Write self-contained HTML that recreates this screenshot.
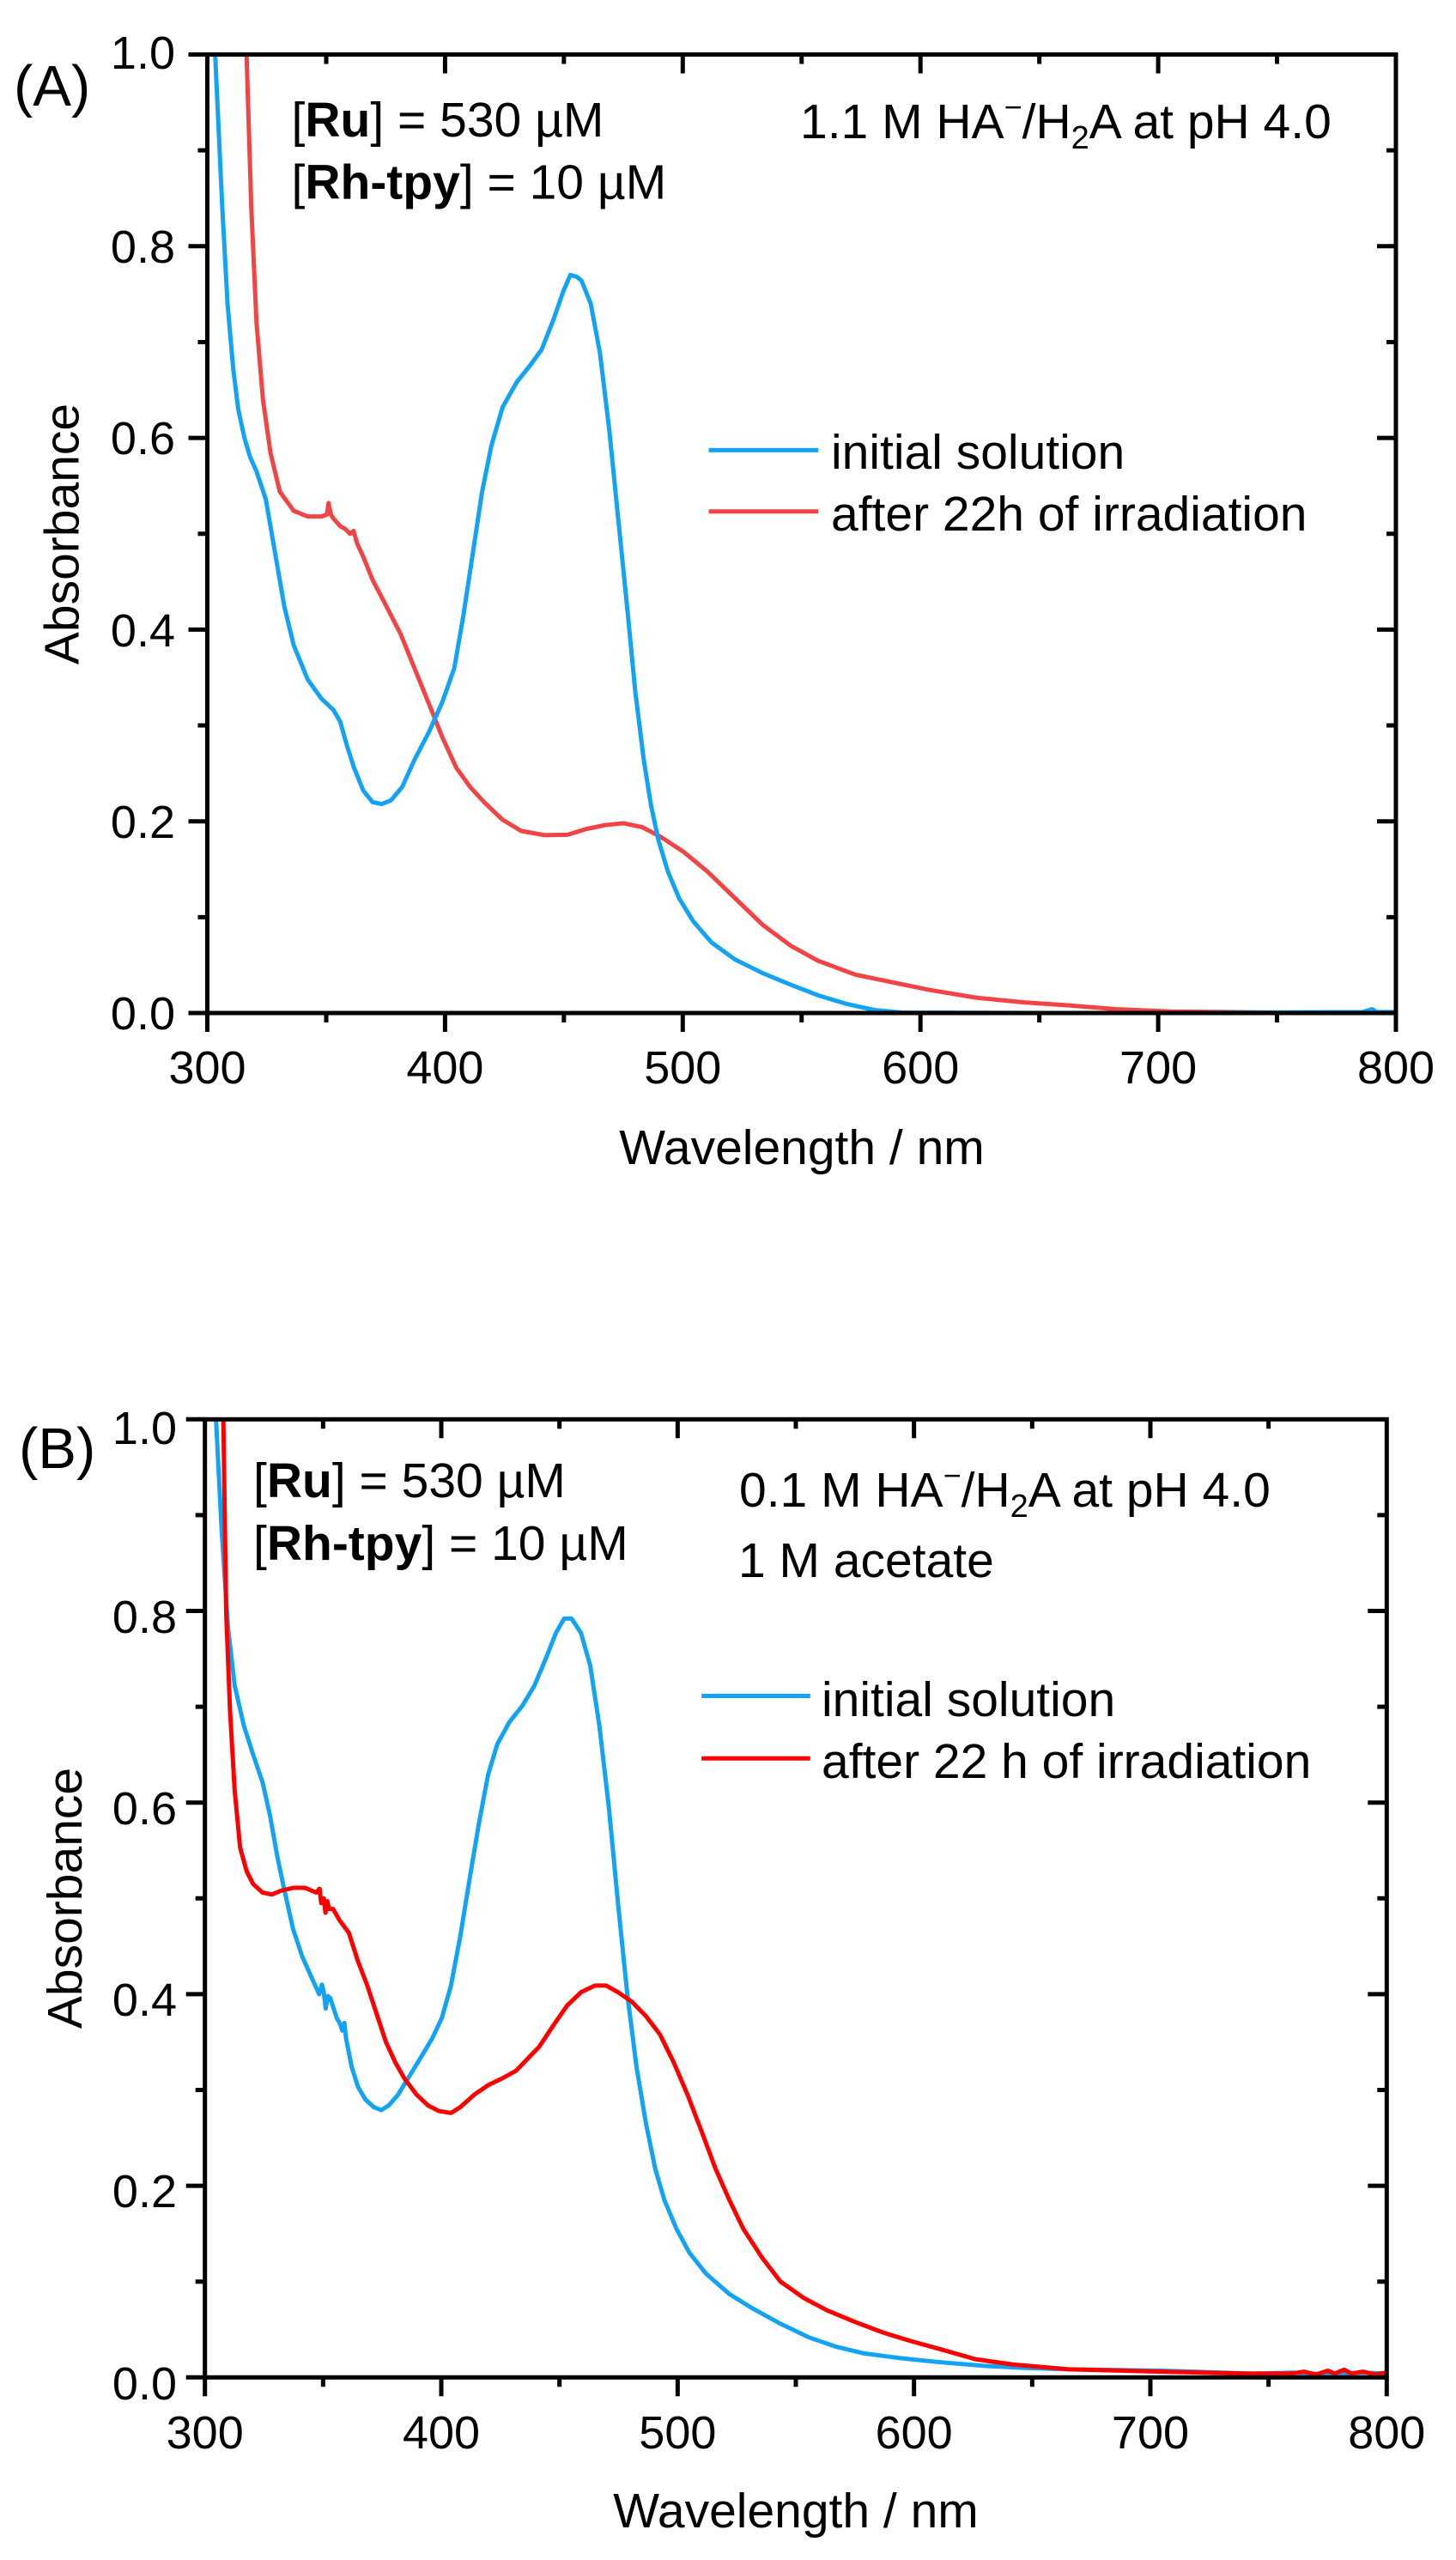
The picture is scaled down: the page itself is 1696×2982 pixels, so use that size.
<!DOCTYPE html>
<html>
<head>
<meta charset="utf-8">
<style>
html,body{margin:0;padding:0;background:#fff;}
svg{display:block;}
text{font-family:"Liberation Sans",Arial,sans-serif;fill:#000;}
</style>
</head>
<body>
<svg width="1696" height="2982" viewBox="0 0 1696 2982" xmlns="http://www.w3.org/2000/svg">
<defs>
<clipPath id="ca"><rect x="241.5" y="63.5" width="1384.5" height="1116.5"/></clipPath>
<clipPath id="cb"><rect x="238.7" y="1653.3" width="1376.6" height="1116"/></clipPath>
</defs>
<rect x="0" y="0" width="1696" height="2982" fill="#fff"/>

<!-- ================= PANEL A ================= -->
<g clip-path="url(#ca)">
<polyline fill="none" stroke="#f24444" stroke-width="5" stroke-linejoin="round" vector-effect="non-scaling-stroke" transform="matrix(2.769 0 0 -1116.5 -589.2 1180)"
points="316.3,1.05 316.5,1.0 318.5,0.84 320.7,0.72 323.4,0.64 326.6,0.584 330.5,0.544 336.3,0.524 342.2,0.518 348,0.518 350.3,0.52 351,0.532 352,0.52 353,0.516 355.9,0.508 358,0.505 360,0.5 361.5,0.503 363,0.49 365.6,0.476 369.5,0.452 375.4,0.424 381.2,0.396 387.1,0.36 393,0.324 398.8,0.288 404.7,0.256 410.5,0.236 416.4,0.22 424.2,0.2016 432,0.19 441.8,0.1856 451.6,0.186 459.4,0.192 467.2,0.196 475,0.198 482.8,0.194 490.6,0.184 500.4,0.168 510.2,0.148 521.9,0.12 533.6,0.092 545.3,0.0704 557,0.0544 572.6,0.04 588.3,0.032 603.9,0.024 623.4,0.016 643,0.0112 662.5,0.008 682,0.004 705.5,0.0016 750,0.0005 800,0"/>
<polyline fill="none" stroke="#12a3f4" stroke-width="5" stroke-linejoin="round" vector-effect="non-scaling-stroke" transform="matrix(2.769 0 0 -1116.5 -589.2 1180)"
points="303.1,1.05 303.3,1.0 306.3,0.84 308.5,0.74 310.9,0.672 313,0.63 315.6,0.6 318,0.58 320.7,0.565 324.6,0.536 328.5,0.48 332.4,0.424 336.3,0.384 342.2,0.348 348,0.328 353.1,0.316 355.9,0.304 358.6,0.28 361.7,0.256 365.6,0.232 369.5,0.22 373.4,0.218 377.3,0.222 382,0.236 387.1,0.264 393,0.292 398.8,0.324 403.9,0.36 407.8,0.416 411.7,0.48 415.6,0.544 419.5,0.592 424.2,0.632 430.1,0.658 435.9,0.676 440.6,0.692 445.7,0.724 449.6,0.752 452.7,0.77 455.5,0.768 457.4,0.764 461.3,0.74 465.2,0.688 469.1,0.608 473,0.512 476.9,0.416 480,0.336 483.6,0.264 486.7,0.216 489.8,0.18 493.7,0.148 498.4,0.12 504.3,0.096 512.1,0.0736 521.9,0.056 533.6,0.0416 545.3,0.0296 557,0.0184 568.7,0.0096 580.5,0.0032 592.2,0.0005 650,0 700,0 786,0.001 790,0.004 792,0.001 800,0.001"/>
</g>

<!-- frame A -->
<rect x="241.5" y="63.5" width="1384.5" height="1116.5" fill="none" stroke="#000" stroke-width="5"/>
<path fill="none" stroke="#000" stroke-width="5" d="
M219.5 1180H241.5 M219.5 956.7H241.5 M219.5 733.4H241.5 M219.5 510.1H241.5 M219.5 286.8H241.5 M219.5 63.5H241.5
M230.5 1068.35H241.5 M230.5 845.05H241.5 M230.5 621.75H241.5 M230.5 398.45H241.5 M230.5 175.15H241.5
M1604 956.7H1626 M1604 733.4H1626 M1604 510.1H1626 M1604 286.8H1626
M1615 1068.35H1626 M1615 845.05H1626 M1615 621.75H1626 M1615 398.45H1626 M1615 175.15H1626
M241.5 1180V1202 M518.4 1180V1202 M795.3 1180V1202 M1072.2 1180V1202 M1349.1 1180V1202 M1626 1180V1202
M380 1180V1191 M656.85 1180V1191 M933.75 1180V1191 M1210.65 1180V1191 M1487.55 1180V1191
M518.4 63.5V85.5 M795.3 63.5V85.5 M1072.2 63.5V85.5 M1349.1 63.5V85.5
M380 63.5V74.5 M656.85 63.5V74.5 M933.75 63.5V74.5 M1210.65 63.5V74.5 M1487.55 63.5V74.5"/>

<!-- tick labels A -->
<g font-size="54" text-anchor="end">
<text x="204" y="1199">0.0</text>
<text x="204" y="976">0.2</text>
<text x="204" y="753">0.4</text>
<text x="204" y="529">0.6</text>
<text x="204" y="306">0.8</text>
<text x="204" y="80">1.0</text>
</g>
<g font-size="54" text-anchor="middle">
<text x="241.5" y="1262">300</text>
<text x="518.4" y="1262">400</text>
<text x="795.3" y="1262">500</text>
<text x="1072.2" y="1262">600</text>
<text x="1349.1" y="1262">700</text>
<text x="1626" y="1262">800</text>
</g>
<text x="934" y="1356" font-size="57" text-anchor="middle">Wavelength / nm</text>
<text transform="translate(91.7,622) rotate(-90)" font-size="57" text-anchor="middle">Absorbance</text>
<text x="16" y="123" font-size="67">(A)</text>

<text x="339.5" y="159" font-size="57">[<tspan font-weight="bold">Ru</tspan>] = 530 µM</text>
<text x="339.5" y="231.5" font-size="57">[<tspan font-weight="bold">Rh-tpy</tspan>] = 10 µM</text>
<text x="932" y="161" font-size="57">1.1 M HA<tspan font-size="36" dy="-24">−</tspan><tspan dy="24">/H</tspan><tspan font-size="38" dy="12">2</tspan><tspan dy="-12">A at pH 4.0</tspan></text>

<line x1="825.6" y1="524.4" x2="953.2" y2="524.4" stroke="#12a3f4" stroke-width="5"/>
<line x1="825.6" y1="595.8" x2="953.2" y2="595.8" stroke="#f24444" stroke-width="5"/>
<text x="968" y="546" font-size="57">initial solution</text>
<text x="968" y="618" font-size="57">after 22h of irradiation</text>

<!-- ================= PANEL B ================= -->
<g clip-path="url(#cb)">
<polyline fill="none" stroke="#12a3f4" stroke-width="5" stroke-linejoin="round" vector-effect="non-scaling-stroke" transform="matrix(2.7532 0 0 -1116 -587.26 2769.3)"
points="304.5,1.05 304.7,1.0 307.1,0.883 309.8,0.782 312.6,0.722 316.5,0.68 320.4,0.65 324.4,0.621 327.5,0.587 330.6,0.544 333.4,0.511 337.3,0.468 341.2,0.439 345.2,0.417 348.3,0.4 349.5,0.41 350.3,0.402 351.1,0.385 352,0.398 353,0.396 355.8,0.375 357,0.37 358.1,0.362 359,0.37 359.7,0.354 362.1,0.324 364.8,0.303 367.9,0.29 371.5,0.282 374.6,0.279 377.8,0.284 381.7,0.295 386.4,0.314 391.1,0.333 396.2,0.354 400.2,0.375 404.1,0.409 408,0.46 411.9,0.519 415.9,0.578 419.8,0.629 423.7,0.661 428.8,0.684 434.3,0.701 439.4,0.722 444.5,0.752 448.5,0.777 452,0.792 455.1,0.792 459.1,0.777 463,0.743 466.9,0.68 470.9,0.595 474.8,0.494 478.7,0.4 482.6,0.324 486.6,0.265 490.5,0.218 494.4,0.185 499.5,0.155 505,0.13 512.1,0.108 521.9,0.087 531.7,0.072 543.5,0.056 555.3,0.042 567.1,0.032 578.9,0.025 594.6,0.02 610.3,0.016 629.9,0.012 645.6,0.01 665.3,0.0085 704.6,0.007 743.8,0.004 760,0.005 775,0.003 790,0.005 800,0.004"/>
<polyline fill="none" stroke="#ff0000" stroke-width="5" stroke-linejoin="round" vector-effect="non-scaling-stroke" transform="matrix(2.7532 0 0 -1116 -587.26 2769.3)"
points="307.6,1.05 307.8,1.0 309,0.798 310.6,0.697 312.6,0.612 314.9,0.553 317.7,0.528 320.4,0.515 324.4,0.506 328.3,0.504 332.2,0.508 337.3,0.511 342.4,0.511 347.1,0.506 348.5,0.51 349.2,0.495 350.3,0.5 351,0.485 351.8,0.497 352.5,0.489 354.2,0.489 357,0.477 360.9,0.464 364.8,0.434 368.7,0.409 372.7,0.379 376.6,0.35 380.5,0.329 384.4,0.312 389.6,0.295 394.3,0.284 399,0.278 404.1,0.276 408,0.282 413.9,0.295 419.8,0.305 425.7,0.312 431.6,0.32 436.7,0.333 441.4,0.345 447.3,0.367 453.2,0.388 459.1,0.402 465,0.409 469.7,0.409 474.8,0.402 480.7,0.392 486.6,0.377 492.5,0.358 498.3,0.329 504.2,0.295 510.1,0.257 516,0.218 521.9,0.185 527.8,0.155 535.7,0.125 543.5,0.1 553.3,0.083 563.2,0.07 574.9,0.058 586.7,0.047 598.5,0.038 610.3,0.03 626,0.019 641.7,0.0135 665.3,0.0085 704.6,0.006 740,0.004 760,0.004 765,0.006 770,0.003 775,0.007 778,0.004 782,0.008 785,0.004 790,0.006 795,0.003 800,0.005"/>
</g>

<!-- frame B -->
<rect x="238.7" y="1653.3" width="1376.6" height="1116" fill="none" stroke="#000" stroke-width="5"/>
<path fill="none" stroke="#000" stroke-width="5" d="
M216.7 2769.3H238.7 M216.7 2546.1H238.7 M216.7 2322.9H238.7 M216.7 2099.7H238.7 M216.7 1876.5H238.7 M216.7 1653.3H238.7
M227.7 2657.7H238.7 M227.7 2434.5H238.7 M227.7 2211.3H238.7 M227.7 1988.1H238.7 M227.7 1764.9H238.7
M1593.3 2546.1H1615.3 M1593.3 2322.9H1615.3 M1593.3 2099.7H1615.3 M1593.3 1876.5H1615.3
M1604.3 2657.7H1615.3 M1604.3 2434.5H1615.3 M1604.3 2211.3H1615.3 M1604.3 1988.1H1615.3 M1604.3 1764.9H1615.3
M238.7 2769.3V2791.3 M514.02 2769.3V2791.3 M789.34 2769.3V2791.3 M1064.66 2769.3V2791.3 M1339.98 2769.3V2791.3 M1615.3 2769.3V2791.3
M376.36 2769.3V2780.3 M651.68 2769.3V2780.3 M927 2769.3V2780.3 M1202.32 2769.3V2780.3 M1477.64 2769.3V2780.3
M514.02 1653.3V1675.3 M789.34 1653.3V1675.3 M1064.66 1653.3V1675.3 M1339.98 1653.3V1675.3
M376.36 1653.3V1664.3 M651.68 1653.3V1664.3 M927 1653.3V1664.3 M1202.32 1653.3V1664.3 M1477.64 1653.3V1664.3"/>

<!-- tick labels B -->
<g font-size="54" text-anchor="end">
<text x="206" y="2795">0.0</text>
<text x="206" y="2571">0.2</text>
<text x="206" y="2348">0.4</text>
<text x="206" y="2125">0.6</text>
<text x="206" y="1902">0.8</text>
<text x="206" y="1682">1.0</text>
</g>
<g font-size="54" text-anchor="middle">
<text x="238.7" y="2852">300</text>
<text x="514.02" y="2852">400</text>
<text x="789.34" y="2852">500</text>
<text x="1064.66" y="2852">600</text>
<text x="1339.98" y="2852">700</text>
<text x="1615.3" y="2852">800</text>
</g>
<text x="927" y="2944" font-size="57" text-anchor="middle">Wavelength / nm</text>
<text transform="translate(95,2211) rotate(-90)" font-size="57" text-anchor="middle">Absorbance</text>
<text x="22" y="1710" font-size="67">(B)</text>

<text x="295" y="1744" font-size="57">[<tspan font-weight="bold">Ru</tspan>] = 530 µM</text>
<text x="295" y="1817" font-size="57">[<tspan font-weight="bold">Rh-tpy</tspan>] = 10 µM</text>
<text x="861" y="1755" font-size="57">0.1 M HA<tspan font-size="36" dy="-24">−</tspan><tspan dy="24">/H</tspan><tspan font-size="38" dy="12">2</tspan><tspan dy="-12">A at pH 4.0</tspan></text>
<text x="860" y="1837" font-size="57">1 M acetate</text>

<line x1="817.2" y1="1975.5" x2="943.8" y2="1975.5" stroke="#12a3f4" stroke-width="5"/>
<line x1="817.2" y1="2048.3" x2="943.8" y2="2048.3" stroke="#ff0000" stroke-width="5"/>
<text x="957" y="1999" font-size="57">initial solution</text>
<text x="957" y="2071" font-size="57">after 22 h of irradiation</text>
</svg>
</body>
</html>
